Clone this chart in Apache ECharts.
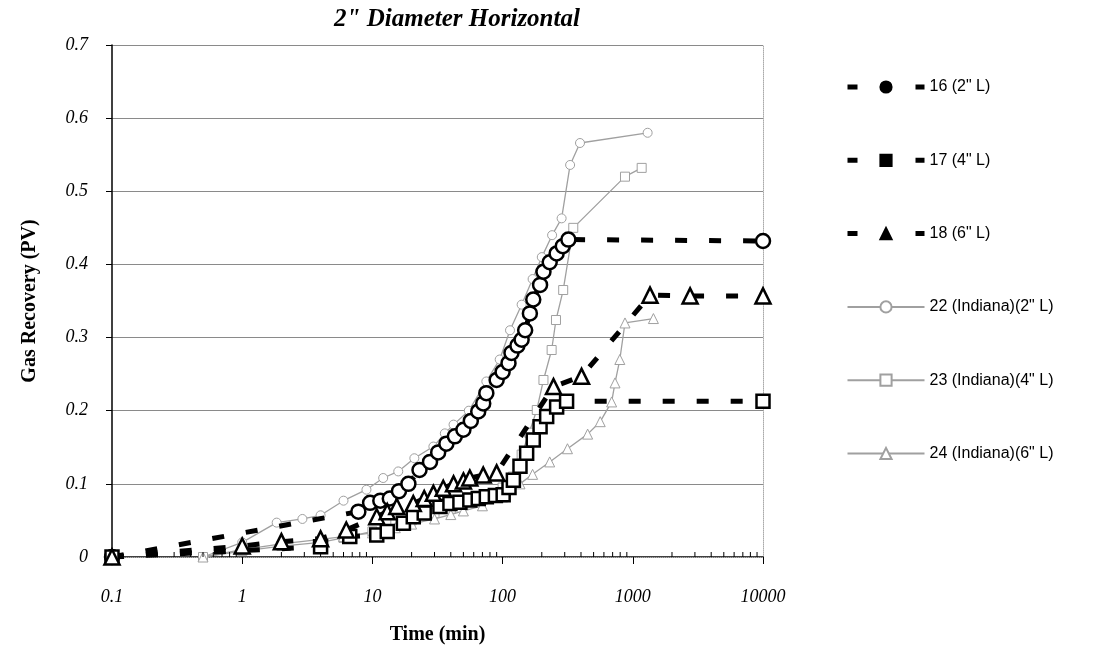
<!DOCTYPE html>
<html>
<head>
<meta charset="utf-8">
<script src="https://cdn.jsdelivr.net/npm/echarts@6/dist/echarts.min.js"></script>
<style>html,body{margin:0;padding:0;background:#fff}#c{width:1095px;height:653px}</style>
</head>
<body>
<div id="c"></div>
<script>
// ---- data (time in min, gas recovery in PV) ----
const names = ['16 (2" L)', '17 (4" L)', '18 (6" L)', '22 (Indiana)(2" L)', '23 (Indiana)(4" L)', '24 (Indiana)(6" L)'];

const t16 = [0.1, 7.8, 9.6, 11.5, 13.6, 16, 18.9, 23, 27.7, 32, 37, 43, 50, 57, 65, 71, 75, 90, 100, 111, 117, 130, 140, 149, 162, 172, 194, 206, 230, 260, 290, 320, 10000];
const v16 = [0, 0.062, 0.074, 0.077, 0.08, 0.09, 0.1, 0.119, 0.13, 0.143, 0.155, 0.165, 0.174, 0.186, 0.199, 0.21, 0.224, 0.242, 0.253, 0.265, 0.279, 0.289, 0.297, 0.31, 0.333, 0.352, 0.372, 0.39, 0.403, 0.415, 0.425, 0.434, 0.432];

const t17 = [0.1, 4, 6.7, 10.8, 13, 17.3, 20.6, 25, 33, 39.4, 47, 56, 65, 75, 88, 101, 112, 121, 136, 153, 172, 194, 218, 260, 310, 10000];
const v17 = [0, 0.014, 0.028, 0.03, 0.035, 0.046, 0.055, 0.06, 0.069, 0.073, 0.075, 0.078, 0.08, 0.0825, 0.084, 0.085, 0.095, 0.105, 0.124, 0.142, 0.16, 0.178, 0.192, 0.205, 0.213, 0.213];

const t18 = [0.1, 1, 2, 4, 6.3, 10.8, 13, 15.4, 20.6, 25, 29.4, 35, 42, 50, 56, 71, 90, 246, 404, 1356, 2755, 10000];
const v18 = [0, 0.015, 0.021, 0.025, 0.037, 0.055, 0.062, 0.069, 0.073, 0.08, 0.087, 0.094, 0.1, 0.104, 0.108, 0.112, 0.115, 0.233, 0.247, 0.358, 0.357, 0.357];

const t22 = [0.5, 1, 1.84, 2.9, 4, 6, 9, 12.1, 15.8, 21, 29.4, 36, 42, 55, 75, 95, 114, 140, 170, 200, 240, 284, 330, 393, 1300];
const v22 = [0, 0.02, 0.047, 0.052, 0.057, 0.077, 0.092, 0.108, 0.117, 0.135, 0.151, 0.169, 0.181, 0.2, 0.24, 0.27, 0.31, 0.345, 0.38, 0.41, 0.44, 0.463, 0.536, 0.566, 0.58];

const t23 = [0.5, 1, 2, 4, 6, 10, 15, 20, 30, 40, 50, 60, 80, 100, 120, 140, 160, 183, 206, 238, 257, 292, 349, 871, 1170];
const v23 = [0, 0.008, 0.015, 0.02, 0.026, 0.035, 0.045, 0.05, 0.06, 0.066, 0.071, 0.076, 0.085, 0.095, 0.11, 0.14, 0.17, 0.201, 0.242, 0.283, 0.324, 0.365, 0.45, 0.52, 0.532];

const t24 = [0.5, 1, 2, 4, 6, 10, 15, 20, 30, 40, 50, 70, 100, 136, 170, 230, 315, 450, 562, 688, 730, 795, 871, 1440];
const v24 = [0, 0.01, 0.018, 0.024, 0.028, 0.033, 0.04, 0.045, 0.052, 0.058, 0.063, 0.07, 0.082, 0.1, 0.113, 0.13, 0.148, 0.168, 0.185, 0.212, 0.238, 0.27, 0.32, 0.326];

const xTickLabels = ['0.1', '1', '10', '100', '1000', '10000'];
const minorTicks = [0.2,0.3,0.4,0.5,0.6,0.7,0.8,0.9, 2,3,4,5,6,7,8,9, 20,30,40,50,60,70,80,90, 200,300,400,500,600,700,800,900, 2000,3000,4000,5000,6000,7000,8000,9000];

// ---- build ----
const zip = (t, v) => t.map((x, i) => [x, v[i]]);
const serif = 'Liberation Serif, Times New Roman, serif';
const sans = 'Liberation Sans, Arial, sans-serif';

function blackSeries(name, t, v, sym, size) {
  return {
    name, type: 'line', data: zip(t, v), symbol: sym, symbolSize: size, z: 5,
    lineStyle: { color: '#000', width: 5, type: [12, 22] },
    itemStyle: { color: '#fff', borderColor: '#000', borderWidth: 2.5 },
    emphasis: { disabled: true }, animation: false
  };
}
function graySeries(name, t, v, sym, size) {
  return {
    name, type: 'line', data: zip(t, v), symbol: sym, symbolSize: size, z: 3,
    lineStyle: { color: '#a0a0a0', width: 1.3 },
    itemStyle: { color: '#fff', borderColor: '#a0a0a0', borderWidth: 1 },
    emphasis: { disabled: true }, animation: false
  };
}
const blackLegendLine = { color: '#000', width: 5, type: [10, 58] };

const chart = echarts.init(document.getElementById('c'), null, { renderer: 'canvas' });
chart.setOption({
  animation: false,
  backgroundColor: '#fff',
  title: {
    text: '2" Diameter Horizontal', left: 452, top: 2, textAlign: 'center',
    textStyle: { fontFamily: serif, fontSize: 25, fontWeight: 'bold', fontStyle: 'italic', color: '#000' }
  },
  grid: { left: 112, right: 332, top: 45, bottom: 96 },
  legend: {
    orient: 'vertical', left: 840, top: 74, itemWidth: 77, itemHeight: 14, itemGap: 57.3,
    textStyle: { fontFamily: sans, fontSize: 16, color: '#000' },
    data: [
      { name: names[0], itemStyle: { color: '#000' }, lineStyle: blackLegendLine },
      { name: names[1], itemStyle: { color: '#000' }, lineStyle: blackLegendLine },
      { name: names[2], itemStyle: { color: '#000' }, lineStyle: blackLegendLine },
      { name: names[3] }, { name: names[4] }, { name: names[5] }
    ],
    selectedMode: false
  },
  xAxis: [{
    type: 'log', logBase: 10, min: 0.1, max: 10000,
    name: 'Time (min)', nameLocation: 'middle', nameGap: 68,
    nameTextStyle: { fontFamily: serif, fontSize: 20, fontWeight: 'bold', color: '#000' },
    axisLine: { lineStyle: { color: '#000', width: 1.5 } },
    axisTick: { show: true, length: 7, lineStyle: { color: '#000' } },
    axisLabel: {
      margin: 31, fontFamily: serif, fontSize: 18, fontStyle: 'italic', color: '#000',
      formatter: v => { const i = Math.round(Math.log10(v)) + 1; return xTickLabels[i] !== undefined ? xTickLabels[i] : ''; }
    },
    splitLine: { show: false }
  }, {
    type: 'log', logBase: 10, min: 0.1, max: 10000, position: 'top',
    axisLine: { show: true, lineStyle: { color: '#aaa', width: 1, type: 'dotted' } },
    axisTick: { show: false }, axisLabel: { show: false }, splitLine: { show: false }
  }],
  yAxis: [{
    type: 'value', min: 0, max: 0.7, interval: 0.1,
    name: 'Gas Recovery (PV)', nameLocation: 'middle', nameGap: 72,
    nameTextStyle: { fontFamily: serif, fontSize: 20, fontWeight: 'bold', color: '#000' },
    axisLine: { show: true, lineStyle: { color: '#000', width: 1.5 } },
    axisTick: { show: true, length: 6, lineStyle: { color: '#000' } },
    axisLabel: { margin: 24, fontFamily: serif, fontSize: 18, fontStyle: 'italic', color: '#000' },
    splitLine: { show: true, lineStyle: { color: '#8a8a8a', width: 1.2 } }
  }, {
    type: 'value', min: 0, max: 0.7, interval: 0.1, position: 'right',
    axisLine: { show: true, lineStyle: { color: '#aaa', width: 1, type: 'dotted' } },
    axisTick: { show: false }, axisLabel: { show: false }, splitLine: { show: false }
  }],
  series: [
    graySeries(names[3], t22, v22, 'circle', 9),
    graySeries(names[4], t23, v23, 'rect', 9),
    graySeries(names[5], t24, v24, 'triangle', 10),
    blackSeries(names[0], t16, v16, 'circle', 14),
    blackSeries(names[1], t17, v17, 'rect', 13),
    blackSeries(names[2], t18, v18, 'triangle', 15),
    {
      type: 'custom', name: 'minorTicks', silent: true, z: 10, clip: false,
      data: minorTicks.map(x => [x, 0]),
      renderItem: (params, api) => {
        const p = api.coord([api.value(0), 0]);
        return { type: 'line', shape: { x1: p[0], y1: p[1], x2: p[0], y2: p[1] - 5 }, style: { stroke: '#000', lineWidth: 1 } };
      }
    }
  ]
});
</script>
</body>
</html>
